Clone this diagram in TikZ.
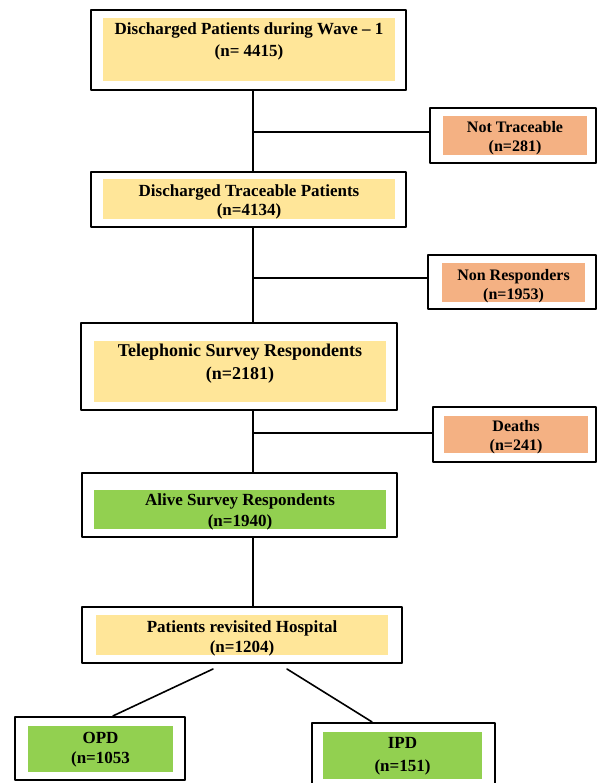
\documentclass[tikz,border=0pt]{standalone}
\usepackage{fontspec}
\setmainfont{Liberation Serif}
\usepackage{tikz}
\usetikzlibrary{shadows}
\definecolor{ffeeaa}{rgb}{1.,0.902,0.6}
\definecolor{ffbb88}{rgb}{0.957,0.694,0.514}
\definecolor{aaddqq}{rgb}{0.573,0.816,0.314}

\begin{document}
\begin{tikzpicture}[line cap=round,line join=round,x=1pt,y=-1pt,
	outer/.style={draw=black,line width=2.2pt,fill=white,inner sep=0pt,
		drop shadow={shadow xshift=1.2pt,shadow yshift=-1.2pt,opacity=0.35}},
	inner/.style={inner sep=0pt},
	txt/.style={align=center,inner sep=0pt,font=\bfseries\fontsize{17}{21}\selectfont},
	sidetxt/.style={txt,font=\bfseries\fontsize{16}{19}\selectfont},
	conn/.style={line width=1.6pt}]
		\useasboundingbox (0,0) rectangle (597,783);
		\clip (0,0) rectangle (597,783);
		\node[outer,minimum width=315,minimum height=80] (b1) at (248.5,50) {};
		\node[inner,fill=ffeeaa,minimum width=292,minimum height=63] (b1f) at (249,49.5) {};
		\node[txt,font=\bfseries\fontsize{17}{22}\selectfont] (b1t) at (249,41.5) {Discharged Patients during Wave – 1\\(n= 4415)};
		\node[outer,minimum width=166,minimum height=55] (nt) at (513,135.5) {};
		\node[inner,fill=ffbb88,minimum width=144,minimum height=39] (ntf) at (515,135.5) {};
		\node[sidetxt] (ntt) at (515,138.5) {Not Traceable\\(n=281)};
		\node[outer,minimum width=315,minimum height=55] (b2) at (248.5,199.5) {};
		\node[inner,fill=ffeeaa,minimum width=292,minimum height=40] (b2f) at (249,199) {};
		\node[txt,font=\bfseries\fontsize{17}{19}\selectfont] (b2t) at (249,202) {Discharged Traceable Patients\\(n=4134)};
		\node[outer,minimum width=168,minimum height=54] (nr) at (512,282) {};
		\node[inner,fill=ffbb88,minimum width=143,minimum height=39] (nrf) at (513.5,282.5) {};
		\node[sidetxt] (nrt) at (513.5,286.5) {Non Responders\\(n=1953)};
		\node[outer,minimum width=316,minimum height=87] (b3) at (239,366.5) {};
		\node[inner,fill=ffeeaa,minimum width=292,minimum height=61] (b3f) at (240,371.5) {};
		\node[txt,font=\bfseries\fontsize{18}{23}\selectfont] (b3t) at (240,363.5) {Telephonic Survey Respondents\\(n=2181)};
		\node[outer,minimum width=163,minimum height=55] (de) at (514.5,434.5) {};
		\node[inner,fill=ffbb88,minimum width=144,minimum height=37] (def) at (516,434.5) {};
		\node[sidetxt] (det) at (516,437.5) {Deaths\\(n=241)};
		\node[outer,minimum width=315,minimum height=64] (b4) at (239.5,505) {};
		\node[inner,fill=aaddqq,minimum width=292,minimum height=39] (b4f) at (240,509.5) {};
		\node[txt] (b4t) at (240,512) {Alive Survey Respondents\\(n=1940)};
		\node[outer,minimum width=320,minimum height=56] (b5) at (242,635) {};
		\node[inner,fill=ffeeaa,minimum width=292,minimum height=40] (b5f) at (242,635) {};
		\node[txt,font=\bfseries\fontsize{17}{20}\selectfont] (b5t) at (242,638) {Patients revisited Hospital\\(n=1204)};
		\node[outer,minimum width=170,minimum height=63] (opd) at (100,748.5) {};
		\node[inner,fill=aaddqq,minimum width=145,minimum height=46] (opdf) at (100.5,749) {};
		\node[txt,font=\bfseries\fontsize{17}{20}\selectfont] (opdt) at (100.5,750) {OPD\\(n=1053};
		\node[outer,minimum width=183,minimum height=77] (ipd) at (403.5,761.5) {};
		\node[inner,fill=aaddqq,minimum width=159,minimum height=47] (ipdf) at (402.5,755.5) {};
		\node[txt,font=\bfseries\fontsize{17}{23}\selectfont] (ipdt) at (402.5,756) {IPD\\(n=151)};
		\coordinate (j1) at (253,132);
		\coordinate (j2) at (253,278);
		\coordinate (j3) at (253,433);
		\coordinate (s1) at (213,669);
		\coordinate (s2) at (287,669);
		\draw [conn] (b1.south -| j1)-- (b2.north -| j1);
		\draw [conn] (j1)-- (nt.west |- j1);
		\draw [conn] (b2.south -| j2)-- (b3.north -| j2);
		\draw [conn] (j2)-- (nr.west |- j2);
		\draw [conn] (b3.south -| j3)-- (b4.north -| j3);
		\draw [conn] (j3)-- (de.west |- j3);
		\draw [conn] (b4.south -| j3)-- (b5.north -| j3);
		\draw [conn] (s1)-- ([xshift=13pt]opd.north);
		\draw [conn] (s2)-- ([xshift=-31.5pt]ipd.north);
		\end{tikzpicture}
\end{document}
